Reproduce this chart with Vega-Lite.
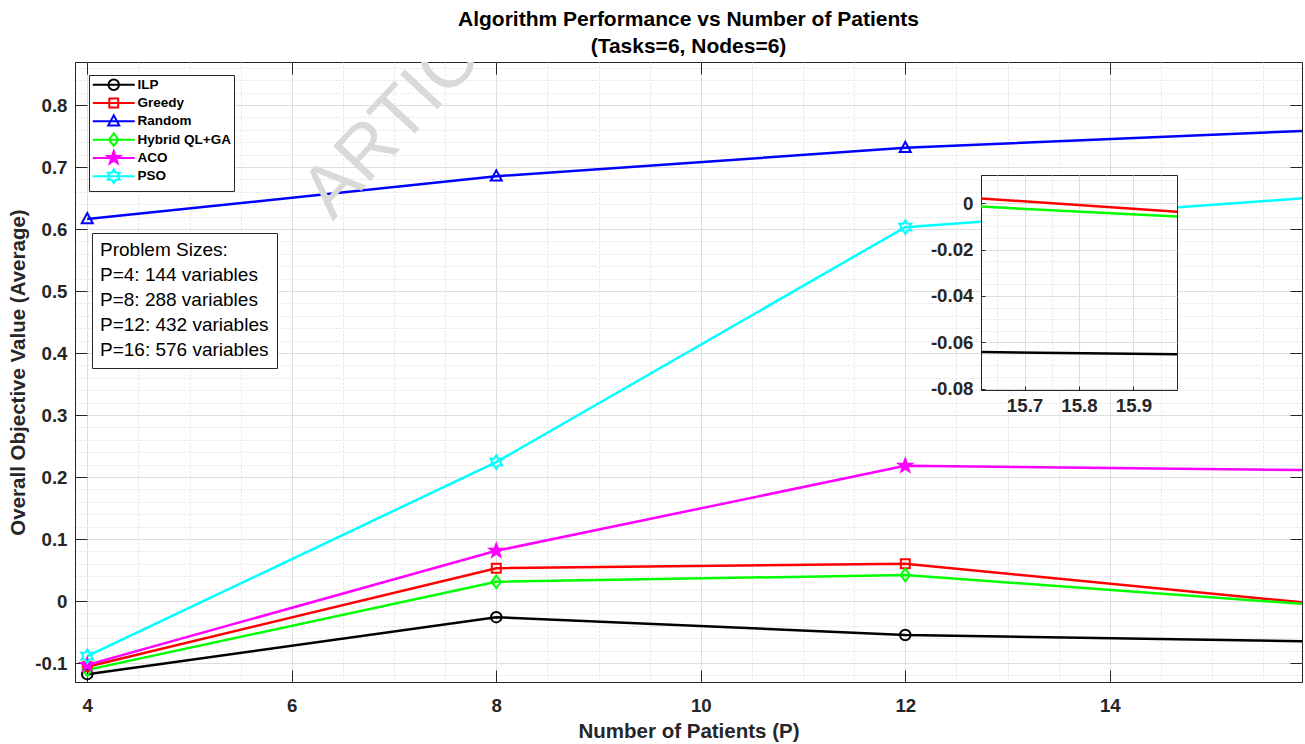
{
  "$schema": "https://vega.github.io/schema/vega-lite/v6.json",
  "background": "white",
  "padding": {"left": 8, "top": 8, "right": 0, "bottom": 0},
  "autosize": {"type": "pad"},
  "config": {"view": {"stroke": null}, "font": "Liberation Sans", "legend": {"symbolFillColor": "transparent", "symbolBaseFillColor": "transparent"}},
  "datasets": {
    "perf": [
      {"series": "ILP", "P": 4, "value": -0.118},
      {"series": "ILP", "P": 8, "value": -0.026},
      {"series": "ILP", "P": 12, "value": -0.0548},
      {"series": "ILP", "P": 16, "value": -0.0652},
      {"series": "Greedy", "P": 4, "value": -0.106},
      {"series": "Greedy", "P": 8, "value": 0.053},
      {"series": "Greedy", "P": 12, "value": 0.060},
      {"series": "Greedy", "P": 16, "value": -0.004},
      {"series": "Random", "P": 4, "value": 0.616},
      {"series": "Random", "P": 8, "value": 0.685},
      {"series": "Random", "P": 12, "value": 0.731},
      {"series": "Random", "P": 16, "value": 0.759},
      {"series": "Hybrid QL+GA", "P": 4, "value": -0.111},
      {"series": "Hybrid QL+GA", "P": 8, "value": 0.031},
      {"series": "Hybrid QL+GA", "P": 12, "value": 0.042},
      {"series": "Hybrid QL+GA", "P": 16, "value": -0.006},
      {"series": "ACO", "P": 4, "value": -0.103},
      {"series": "ACO", "P": 8, "value": 0.081},
      {"series": "ACO", "P": 12, "value": 0.218},
      {"series": "ACO", "P": 16, "value": 0.211},
      {"series": "PSO", "P": 4, "value": -0.089},
      {"series": "PSO", "P": 8, "value": 0.224},
      {"series": "PSO", "P": 12, "value": 0.603},
      {"series": "PSO", "P": 16, "value": 0.651}
    ],
    "sizes": [
      {"label": "P=4: 144 variables"},
      {"label": "P=8: 288 variables"},
      {"label": "P=12: 432 variables"},
      {"label": "P=16: 576 variables"}
    ],
    "watermark": [
      {"stamp": "ARTICLE IN PRESS"}
    ]
  },
  "bounds": "flush",
  "spacing": 906,
  "hconcat": [
    {
      "bounds": "flush",
      "vconcat": [
        {
          "width": 1227,
          "height": 620,
          "view": {"stroke": "#262626", "strokeWidth": 1},
          "title": {
            "text": ["Algorithm Performance vs Number of Patients", "(Tasks=6, Nodes=6)"],
            "font": "Liberation Sans",
            "fontSize": 21,
            "fontWeight": "bold",
            "color": "#000000",
            "lineHeight": 27,
            "anchor": "middle",
            "frame": "group",
            "offset": 5
          },
          "resolve": {"scale": {"x": "independent", "y": "independent"}},
          "layer": [
            {
              "data": {"name": "perf"},
              "transform": [{"filter": "false"}],
              "mark": {"type": "point"},
              "encoding": {
                "x": {
                  "field": "P", "type": "quantitative",
                  "scale": {"domain": [3.88, 15.88], "nice": false, "zero": false},
                  "axis": {"orient": "top", "values": [4, 6, 8, 10, 12, 14], "labels": false, "grid": false, "domain": false, "title": null, "tickSize": -12, "tickColor": "#262626"}
                },
                "y": {
                  "field": "value", "type": "quantitative",
                  "scale": {"domain": [-0.1306, 0.8694], "nice": false, "zero": false},
                  "axis": {"orient": "right", "values": [-0.1, 0, 0.1, 0.2, 0.3, 0.4, 0.5, 0.6, 0.7, 0.8], "labels": false, "grid": false, "domain": false, "title": null, "tickSize": -12, "tickColor": "#262626"}
                }
              }
            },
            {
              "encoding": {
                "x": {
                  "field": "P", "type": "quantitative",
                  "scale": {"domain": [3.88, 15.88], "nice": false, "zero": false},
                  "axis": {
                    "orient": "bottom",
                    "values": [4, 4.5, 5, 5.5, 6, 6.5, 7, 7.5, 8, 8.5, 9, 9.5, 10, 10.5, 11, 11.5, 12, 12.5, 13, 13.5, 14, 14.5, 15, 15.5],
                    "title": "Number of Patients (P)",
                    "titleFont": "Liberation Sans", "titleFontSize": 20.5, "titleFontWeight": "bold",
                    "titleColor": "#262626", "titlePadding": 7,
                    "labelFont": "Liberation Sans", "labelFontWeight": "bold",
                    "labelFontSize": {"condition": {"test": "datum.value % 2 === 0", "value": 18.7}, "value": 0},
                    "labelColor": "#262626", "labelPadding": 26, "labelOverlap": false, "labelFlush": false,
                    "labelExpr": "datum.value % 2 === 0 ? toString(datum.value) : ''",
                    "tickSize": -12, "tickColor": "#262626",
                    "tickOpacity": {"condition": {"test": "datum.value % 2 === 0", "value": 1}, "value": 0},
                    "domainColor": "#262626",
                    "grid": true,
                    "gridColor": {"condition": {"test": "datum.value % 2 === 0", "value": "#dedede"}, "value": "#e2e2e2"},
                    "gridDash": {"condition": {"test": "datum.value % 2 === 0", "value": []}, "value": [2, 2]}
                  }
                },
                "y": {
                  "field": "value", "type": "quantitative",
                  "scale": {"domain": [-0.1306, 0.8694], "nice": false, "zero": false},
                  "axis": {
                    "orient": "left",
                    "values": [-0.12, -0.1, -0.08, -0.06, -0.04, -0.02, 0, 0.02, 0.04, 0.06, 0.08, 0.1, 0.12, 0.14, 0.16, 0.18, 0.2, 0.22, 0.24, 0.26, 0.28, 0.3, 0.32, 0.34, 0.36, 0.38, 0.4, 0.42, 0.44, 0.46, 0.48, 0.5, 0.52, 0.54, 0.56, 0.58, 0.6, 0.62, 0.64, 0.66, 0.68, 0.7, 0.72, 0.74, 0.76, 0.78, 0.8, 0.82, 0.84, 0.86],
                    "title": "Overall Objective Value (Average)",
                    "titleFont": "Liberation Sans", "titleFontSize": 20.5, "titleFontWeight": "bold",
                    "titleColor": "#262626", "titlePadding": 6,
                    "labelFont": "Liberation Sans", "labelFontWeight": "bold",
                    "labelFontSize": {"condition": {"test": "abs(datum.value*10 - round(datum.value*10)) < 0.001", "value": 18.7}, "value": 0},
                    "labelColor": "#262626", "labelPadding": 20, "labelOverlap": false,
                    "labelExpr": "abs(datum.value*10 - round(datum.value*10)) < 0.001 ? toString(round(datum.value*10)/10) : ''",
                    "tickSize": -12, "tickColor": "#262626",
                    "tickOpacity": {"condition": {"test": "abs(datum.value*10 - round(datum.value*10)) < 0.001", "value": 1}, "value": 0},
                    "domainColor": "#262626",
                    "grid": true,
                    "gridColor": {"condition": {"test": "abs(datum.value*10 - round(datum.value*10)) < 0.001", "value": "#dedede"}, "value": "#e2e2e2"},
                    "gridDash": {"condition": {"test": "abs(datum.value*10 - round(datum.value*10)) < 0.001", "value": []}, "value": [2, 2]}
                  }
                }
              },
              "layer": [
                {
                  "data": {"name": "perf"},
                  "transform": [{"filter": "false"}],
                  "mark": {"type": "point", "filled": false, "strokeWidth": 2, "size": 110, "opacity": 1},
                  "encoding": {
                    "stroke": {
                      "field": "series", "type": "nominal",
                      "scale": {
                        "domain": ["ILP", "Greedy", "Random", "Hybrid QL+GA", "ACO", "PSO"],
                        "range": ["#000000", "#ff0000", "#0000ff", "#00ff00", "#ff00ff", "#00ffff"]
                      },
                      "legend": {
                        "orient": "none", "legendX": 14, "legendY": 13, "title": null,
                        "fillColor": "white", "strokeColor": "#262626", "padding": 3,
                        "labelFont": "Liberation Sans", "labelFontWeight": "bold", "labelFontSize": 13.5,
                        "labelColor": "#000000", "symbolSize": 110, "symbolStrokeWidth": 2, "symbolOpacity": 1,
                        "symbolFillColor": "transparent",
                        "symbolOffset": 15, "labelOffset": 17, "rowPadding": -4.7, "gridAlign": "all"
                      }
                    },
                    "shape": {
                      "field": "series", "type": "nominal",
                      "scale": {
                        "domain": ["ILP", "Greedy", "Random", "Hybrid QL+GA", "ACO", "PSO"],
                        "range": [
                          "M-4,0L4,0M-1,0A1,1 0 1,0 1,0A1,1 0 1,0 -1,0Z",
                          "M-4,0L4,0M-0.85,-0.85L0.85,-0.85L0.85,0.85L-0.85,0.85Z",
                          "M-4,0L4,0M0,-1.15L1.05,0.8L-1.05,0.8Z",
                          "M-4,0L4,0M0,-1.2L0.9,0L0,1.2L-0.9,0Z",
                          "M-4,0L4,0M0,-1.3L0.31,-0.43L1.24,-0.4L0.5,0.16L0.76,1.05L0,0.53L-0.76,1.05L-0.5,0.16L-1.24,-0.4L-0.31,-0.43ZM0,-0.78L0.186,-0.258L0.744,-0.24L0.3,0.096L0.456,0.63L0,0.318L-0.456,0.63L-0.3,0.096L-0.744,-0.24L-0.186,-0.258ZM0,-0.325L0.078,-0.108L0.31,-0.1L0.125,0.04L0.19,0.263L0,0.133L-0.19,0.263L-0.125,0.04L-0.31,-0.1L-0.078,-0.108Z",
                          "M-4,0L4,0M0,-1.3L0.375,-0.65L1.126,-0.65L0.75,0L1.126,0.65L0.375,0.65L0,1.3L-0.375,0.65L-1.126,0.65L-0.75,0L-1.126,-0.65L-0.375,-0.65Z"
                        ]
                      },
                      "legend": {
                        "orient": "none", "legendX": 14, "legendY": 13, "title": null,
                        "fillColor": "white", "strokeColor": "#262626", "padding": 3,
                        "labelFont": "Liberation Sans", "labelFontWeight": "bold", "labelFontSize": 13.5,
                        "labelColor": "#000000", "symbolSize": 110, "symbolStrokeWidth": 2, "symbolOpacity": 1,
                        "symbolFillColor": "transparent",
                        "symbolOffset": 15, "labelOffset": 17, "rowPadding": -4.7, "gridAlign": "all"
                      }
                    }
                  }
                },
                {
                  "data": {"name": "perf"},
                  "mark": {"type": "line", "strokeWidth": 2.5, "clip": true},
                  "encoding": {"stroke": {"field": "series", "type": "nominal", "legend": null}}
                },
                {
                  "data": {"name": "perf"},
                  "transform": [{"filter": "datum.series === 'ILP'"}],
                  "mark": {"type": "point", "shape": "M-1,0A1,1 0 1,0 1,0A1,1 0 1,0 -1,0Z", "size": 110, "filled": false, "strokeWidth": 2, "opacity": 1, "clip": true},
                  "encoding": {"stroke": {"field": "series", "type": "nominal", "legend": null}}
                },
                {
                  "data": {"name": "perf"},
                  "transform": [{"filter": "datum.series === 'Greedy'"}],
                  "mark": {"type": "point", "shape": "M-0.85,-0.85L0.85,-0.85L0.85,0.85L-0.85,0.85Z", "size": 110, "filled": false, "strokeWidth": 2, "opacity": 1, "clip": true},
                  "encoding": {"stroke": {"field": "series", "type": "nominal", "legend": null}}
                },
                {
                  "data": {"name": "perf"},
                  "transform": [{"filter": "datum.series === 'Random'"}],
                  "mark": {"type": "point", "shape": "M0,-1.15L1.05,0.8L-1.05,0.8Z", "size": 110, "filled": false, "strokeWidth": 2, "opacity": 1, "clip": true},
                  "encoding": {"stroke": {"field": "series", "type": "nominal", "legend": null}}
                },
                {
                  "data": {"name": "perf"},
                  "transform": [{"filter": "datum.series === 'Hybrid QL+GA'"}],
                  "mark": {"type": "point", "shape": "M0,-1.2L0.9,0L0,1.2L-0.9,0Z", "size": 110, "filled": false, "strokeWidth": 2, "opacity": 1, "clip": true},
                  "encoding": {"stroke": {"field": "series", "type": "nominal", "legend": null}}
                },
                {
                  "data": {"name": "perf"},
                  "transform": [{"filter": "datum.series === 'ACO'"}],
                  "mark": {"type": "point", "shape": "M0,-1.3L0.31,-0.43L1.24,-0.4L0.5,0.16L0.76,1.05L0,0.53L-0.76,1.05L-0.5,0.16L-1.24,-0.4L-0.31,-0.43Z", "size": 110, "filled": true, "fill": "#ff00ff", "opacity": 1, "clip": true},
                  "encoding": {"stroke": {"field": "series", "type": "nominal", "legend": null}}
                },
                {
                  "data": {"name": "perf"},
                  "transform": [{"filter": "datum.series === 'PSO'"}],
                  "mark": {"type": "point", "shape": "M0,-1.3L0.375,-0.65L1.126,-0.65L0.75,0L1.126,0.65L0.375,0.65L0,1.3L-0.375,0.65L-1.126,0.65L-0.75,0L-1.126,-0.65L-0.375,-0.65Z", "size": 110, "filled": false, "strokeWidth": 2, "opacity": 1, "clip": true},
                  "encoding": {"stroke": {"field": "series", "type": "nominal", "legend": null}}
                },
                {
                  "data": {"name": "sizes"},
                  "mark": {"type": "point", "opacity": 0, "clip": true},
                  "encoding": {
                    "strokeDash": {
                      "field": "label", "type": "nominal",
                      "scale": {"domain": ["P=4: 144 variables", "P=8: 288 variables", "P=12: 432 variables", "P=16: 576 variables"], "range": [[1, 0], [1, 0], [1, 0], [1, 0]]},
                      "legend": {
                        "orient": "none", "legendX": 17, "legendY": 171,
                        "title": "Problem Sizes:", "titleFont": "Liberation Sans", "titleFontWeight": "normal",
                        "titleFontSize": 19, "titleColor": "#000000", "titlePadding": 5, "titleLimit": 400,
                        "labelFont": "Liberation Sans", "labelFontSize": 19, "labelColor": "#000000", "labelLimit": 400,
                        "symbolSize": 1, "symbolOpacity": 0, "symbolOffset": 0, "labelOffset": -19,
                        "rowPadding": 5, "padding": 8, "fillColor": "white", "strokeColor": "#262626"
                      }
                    }
                  }
                }
              ]
            },
            {
              "data": {"name": "watermark"},
              "mark": {"type": "text", "font": "Liberation Sans", "fontSize": 74, "fill": "#d9d9d9", "opacity": 1, "angle": 313, "align": "left", "baseline": "alphabetic", "clip": true},
              "encoding": {
                "x": {"datum": 6.4, "type": "quantitative", "scale": {"domain": [3.88, 15.88], "nice": false, "zero": false}, "axis": null},
                "y": {"datum": 0.612, "type": "quantitative", "scale": {"domain": [-0.1306, 0.8694], "nice": false, "zero": false}, "axis": null},
                "text": {"field": "stamp", "type": "nominal"}
              }
            }
          ]
        }
      ]
    },
    {
      "bounds": "flush",
      "spacing": 112,
      "vconcat": [
        {
          "width": 1,
          "height": 1,
          "data": {"values": []},
          "mark": "point"
        },
        {
          "width": 196,
          "height": 215,
          "view": {"fill": "white", "stroke": "#262626", "strokeWidth": 1},
          "data": {"name": "perf"},
          "transform": [
            {"filter": "(datum.series === 'ILP' || datum.series === 'Greedy' || datum.series === 'Hybrid QL+GA') && datum.P >= 12"}
          ],
          "mark": {"type": "line", "strokeWidth": 2.5, "clip": true},
          "encoding": {
            "x": {
              "field": "P", "type": "quantitative",
              "scale": {"domain": [15.62, 15.98], "nice": false, "zero": false},
              "axis": {
                "values": [15.65, 15.7, 15.75, 15.8, 15.85, 15.9, 15.95],
                "title": null,
                "labelFont": "Liberation Sans", "labelFontWeight": "bold",
                "labelFontSize": {"condition": {"test": "abs(datum.value*10 - round(datum.value*10)) < 0.001", "value": 18.7}, "value": 0},
                "labelColor": "#262626", "labelPadding": 10, "labelOverlap": false, "labelFlush": false,
                "labelExpr": "abs(datum.value*10 - round(datum.value*10)) < 0.001 ? toString(round(datum.value*10)/10) : ''",
                "tickSize": -4, "tickColor": "#262626",
                "tickOpacity": {"condition": {"test": "abs(datum.value*10 - round(datum.value*10)) < 0.001", "value": 1}, "value": 0},
                "domainColor": "#262626",
                "grid": true,
                "gridColor": {"condition": {"test": "abs(datum.value*10 - round(datum.value*10)) < 0.001", "value": "#dedede"}, "value": "#e2e2e2"},
                "gridDash": {"condition": {"test": "abs(datum.value*10 - round(datum.value*10)) < 0.001", "value": []}, "value": [2, 2]}
              }
            },
            "y": {
              "field": "value", "type": "quantitative",
              "scale": {"domain": [-0.0806, 0.0122], "nice": false, "zero": false},
              "axis": {
                "values": [-0.08, -0.075, -0.07, -0.065, -0.06, -0.055, -0.05, -0.045, -0.04, -0.035, -0.03, -0.025, -0.02, -0.015, -0.01, -0.005, 0, 0.005, 0.01],
                "title": null,
                "labelFont": "Liberation Sans", "labelFontWeight": "bold",
                "labelFontSize": {"condition": {"test": "abs(datum.value*50 - round(datum.value*50)) < 0.001", "value": 18.7}, "value": 0},
                "labelColor": "#262626", "labelPadding": 12, "labelOverlap": false,
                "labelExpr": "abs(datum.value*50 - round(datum.value*50)) < 0.001 ? toString(round(datum.value*100)/100) : ''",
                "tickSize": -4, "tickColor": "#262626",
                "tickOpacity": {"condition": {"test": "abs(datum.value*50 - round(datum.value*50)) < 0.001", "value": 1}, "value": 0},
                "domainColor": "#262626",
                "grid": true,
                "gridColor": {"condition": {"test": "abs(datum.value*50 - round(datum.value*50)) < 0.001", "value": "#dedede"}, "value": "#e2e2e2"},
                "gridDash": {"condition": {"test": "abs(datum.value*50 - round(datum.value*50)) < 0.001", "value": []}, "value": [2, 2]}
              }
            },
            "color": {
              "field": "series", "type": "nominal",
              "scale": {
                "domain": ["ILP", "Greedy", "Random", "Hybrid QL+GA", "ACO", "PSO"],
                "range": ["#000000", "#ff0000", "#0000ff", "#00ff00", "#ff00ff", "#00ffff"]
              },
              "legend": null
            }
          }
        }
      ]
    }
  ]
}
